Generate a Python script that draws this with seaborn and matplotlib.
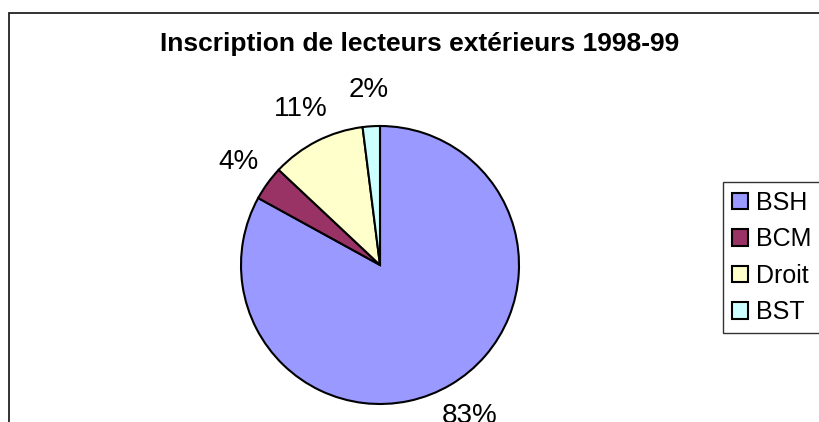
import matplotlib
matplotlib.use("Agg")
import matplotlib.pyplot as plt
import seaborn as sns
from matplotlib.patches import Rectangle

categories = ["BSH", "BCM", "Droit", "BST"]
shares = [83, 4, 11, 2]
colors = ["#9999FF", "#993366", "#FFFFCC", "#CCFFFF"]
title = "Inscription de lecteurs extérieurs 1998-99"

sns.set_style("white")
plt.rcParams['font.family'] = ['Liberation Sans', 'DejaVu Sans']
plt.rcParams['text.color'] = 'black'

W, H = 819, 422
fig = plt.figure(figsize=(W / 100, H / 100), dpi=100)

# outer chart frame (runs off the right and bottom edges)
fig.patches.append(Rectangle((9 / W, -0.1), 1.2, 1 - 13 / H + 0.1, transform=fig.transFigure,
                             fill=False, edgecolor="#222222", linewidth=1.3))

# pie axes: centre (380, 265), radius 139 px
r = 139
ax = fig.add_axes([(380 - r) / W, (H - 265 - r) / H, 2 * r / W, 2 * r / H])
labels = [f"{v}%" for v in shares]
wedges, texts = ax.pie(shares, colors=colors, startangle=90, counterclock=False,
                       labels=labels, labeldistance=1.26,
                       wedgeprops=dict(edgecolor="black", linewidth=1.5),
                       textprops=dict(fontsize=20, color="black"))
for t in texts:
    t.set_horizontalalignment("center")
    t.set_verticalalignment("center")
    t.set_clip_on(False)
ax.set_xlim(-1, 1)
ax.set_ylim(-1, 1)
ax.set_aspect("equal")
ax.axis("off")

fig.text(420 / W, 1 - 44 / H, title, ha="center", va="center",
         fontsize=19, fontweight="bold", color="black")

leg = fig.legend(wedges, categories, loc="upper left",
                 bbox_to_anchor=(723 / W, 1 - 182 / H), bbox_transform=fig.transFigure,
                 fontsize=18, frameon=True, fancybox=False, shadow=False,
                 handlelength=0.65, handleheight=0.65, handletextpad=0.3,
                 labelspacing=0.5, borderpad=0.35, borderaxespad=0)
leg.get_frame().set_edgecolor("black")
leg.get_frame().set_linewidth(1)
for t in leg.get_texts():
    t.set_color("black")
for h in leg.legend_handles:
    h.set_edgecolor("black")
    h.set_linewidth(1.5)

fig.savefig("out.png", dpi=100)
